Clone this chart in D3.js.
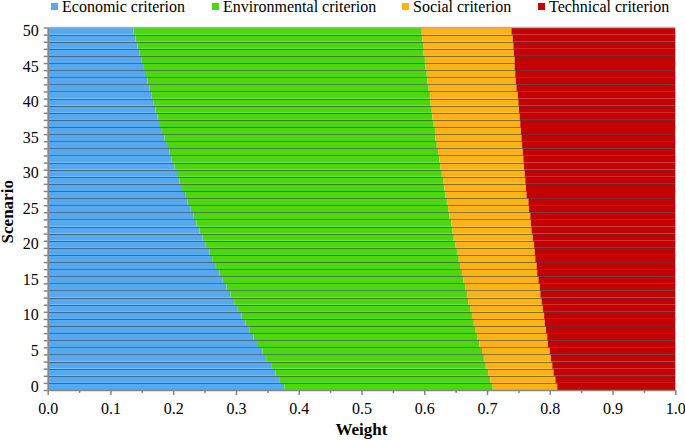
<!DOCTYPE html>
<html>
<head>
<meta charset="utf-8">
<script src="https://cdn.jsdelivr.net/npm/d3@7"></script>
<style>
  body { margin: 0; background: #fff; }
  svg text { font-family: "Times New Roman", "Liberation Serif", Tinos, "DejaVu Serif", serif !important; fill: #000; }
</style>
</head>
<body>
<svg id="chart" width="685" height="440"></svg>
<script>
// weights per scenario 0..50
var scenarios = d3.range(0, 51);
var criteria = ["Economic criterion", "Environmental criterion", "Social criterion", "Technical criterion"];
var colors = ["#55a9f0", "#4bd811", "#fcb315", "#c40000"];

var economic = [0.377, 0.370, 0.363, 0.356, 0.348, 0.342, 0.335, 0.328, 0.322, 0.315,
  0.309, 0.303, 0.297, 0.291, 0.285, 0.279, 0.274, 0.268, 0.262, 0.258,
  0.252, 0.247, 0.242, 0.237, 0.232, 0.228, 0.223, 0.219, 0.214, 0.210,
  0.206, 0.202, 0.197, 0.194, 0.190, 0.186, 0.182, 0.179, 0.175, 0.172,
  0.169, 0.165, 0.162, 0.159, 0.155, 0.152, 0.149, 0.146, 0.143, 0.140, 0.137];
var environmental = [0.332, 0.335, 0.339, 0.342, 0.347, 0.350, 0.353, 0.357, 0.360, 0.364,
  0.367, 0.371, 0.373, 0.377, 0.380, 0.383, 0.386, 0.389, 0.393, 0.394,
  0.398, 0.400, 0.403, 0.406, 0.408, 0.410, 0.413, 0.415, 0.418, 0.420,
  0.422, 0.424, 0.427, 0.428, 0.430, 0.432, 0.435, 0.436, 0.438, 0.440,
  0.441, 0.444, 0.445, 0.446, 0.449, 0.450, 0.452, 0.453, 0.456, 0.457, 0.459];
var social = [0.103, 0.104, 0.104, 0.106, 0.107, 0.108, 0.109, 0.111, 0.112, 0.113,
  0.115, 0.115, 0.117, 0.117, 0.119, 0.120, 0.120, 0.122, 0.122, 0.124,
  0.125, 0.126, 0.126, 0.127, 0.129, 0.129, 0.130, 0.129, 0.130, 0.131,
  0.132, 0.133, 0.134, 0.135, 0.136, 0.137, 0.137, 0.138, 0.139, 0.139,
  0.140, 0.140, 0.140, 0.141, 0.141, 0.142, 0.143, 0.144, 0.143, 0.144, 0.143];
var technical = [0.188, 0.191, 0.194, 0.196, 0.198, 0.200, 0.203, 0.204, 0.206, 0.208,
  0.209, 0.211, 0.213, 0.215, 0.216, 0.218, 0.220, 0.221, 0.223, 0.224,
  0.225, 0.227, 0.229, 0.230, 0.231, 0.233, 0.234, 0.237, 0.238, 0.239,
  0.240, 0.241, 0.242, 0.243, 0.244, 0.245, 0.246, 0.247, 0.248, 0.249,
  0.250, 0.251, 0.253, 0.254, 0.255, 0.256, 0.256, 0.257, 0.258, 0.259, 0.261];
var xTicks = [0, 0.1, 0.2, 0.3, 0.4, 0.5, 0.6, 0.7, 0.8, 0.9, 1.0];
var yLabels = [0, 5, 10, 15, 20, 25, 30, 35, 40, 45, 50];

// plot box (note: "top" is a reserved window prop, so use own names)
var plotLeft = 47.7, plotRight = 675.3, plotTop = 27.5, plotBottom = 390;
var svg = d3.select("#chart");

var table = scenarios.map(function (s, i) {
  return {scenario: s, "Economic criterion": economic[i], "Environmental criterion": environmental[i],
    "Social criterion": social[i], "Technical criterion": technical[i]};
});
var series = d3.stack().keys(criteria)(table);

var x = d3.scaleLinear().domain([0, 1]).range([plotLeft, plotRight]);
var y = d3.scaleBand().domain(scenarios).range([plotBottom, plotTop]).padding(0);
// linear version of the category axis, for ticks between categories
var yLin = d3.scaleLinear().domain([-0.5, 50.5]).range([plotBottom, plotTop]);

// bars
svg.append("g").selectAll("g")
  .data(series).enter().append("g")
  .attr("fill", function (d, i) { return colors[i]; })
  .selectAll("rect")
  .data(function (d) { return d; }).enter().append("rect")
  .attr("x", function (d) { return x(d[0]); })
  .attr("width", function (d) { return x(d[1]) - x(d[0]); })
  .attr("y", function (d) { return y(d.data.scenario); })
  .attr("height", y.bandwidth());

// thin dark lines between the bars
svg.append("g").selectAll("line")
  .data(scenarios.slice(1)).enter().append("line")
  .attr("x1", plotLeft).attr("x2", plotRight)
  .attr("y1", function (d) { return Math.round(yLin(d - 0.5)) + 0.5; })
  .attr("y2", function (d) { return Math.round(yLin(d - 0.5)) + 0.5; })
  .attr("stroke", "#404040").attr("stroke-opacity", 0.6).attr("stroke-width", 1);

// top border
svg.append("line")
  .attr("x1", plotLeft).attr("x2", plotRight).attr("y1", plotTop).attr("y2", plotTop)
  .attr("stroke", "#b0b0b0").attr("stroke-width", 1.5);

// x axis
svg.append("g").attr("transform", "translate(0," + plotBottom + ")")
  .call(d3.axisBottom(x).tickValues(xTicks).tickSize(5).tickSizeOuter(0).tickPadding(8).tickFormat(d3.format(".1f")));
svg.append("g").attr("transform", "translate(0," + plotBottom + ")")
  .call(d3.axisBottom(x).tickValues(d3.range(0.05, 1, 0.1)).tickSize(3).tickSizeOuter(0).tickFormat(""))
  .select(".domain").remove();

// y axis: labels at category centres, ticks at category edges
svg.append("g").attr("transform", "translate(" + plotLeft + ",0)")
  .call(d3.axisLeft(y).tickValues(yLabels).tickSize(0).tickPadding(9));
svg.append("g").attr("transform", "translate(" + plotLeft + ",0)")
  .call(d3.axisLeft(yLin).tickValues(d3.range(-0.5, 51, 1)).tickSize(4).tickSizeOuter(0).tickFormat(""))
  .select(".domain").remove();

svg.selectAll("g").attr("font-family", null);
svg.selectAll(".domain, .tick line").attr("stroke", "#868686").attr("stroke-width", 1.5);
svg.selectAll(".tick text").style("font-size", "16px").attr("fill", "#000");

// axis titles
svg.append("text").attr("x", (plotLeft + plotRight) / 2).attr("y", 435)
  .attr("text-anchor", "middle").style("font-size", "17px").style("font-weight", "bold").text("Weight");
svg.append("text").attr("transform", "translate(12.5," + ((plotTop + plotBottom) / 2 + 3) + ") rotate(-90)")
  .attr("text-anchor", "middle").style("font-size", "17px").style("font-weight", "bold").text("Scenario");

// legend
var legendX = [51, 212, 402, 538];
var legend = svg.append("g").selectAll("g")
  .data(criteria).enter().append("g")
  .attr("transform", function (d, i) { return "translate(" + legendX[i] + ",0)"; });
legend.append("rect").attr("x", 0).attr("y", 3).attr("width", 7).attr("height", 7)
  .attr("fill", function (d, i) { return colors[i]; });
legend.append("text").attr("x", 11).attr("y", 12)
  .style("font-size", "16px").text(function (d) { return d; });
</script>
</body>
</html>
